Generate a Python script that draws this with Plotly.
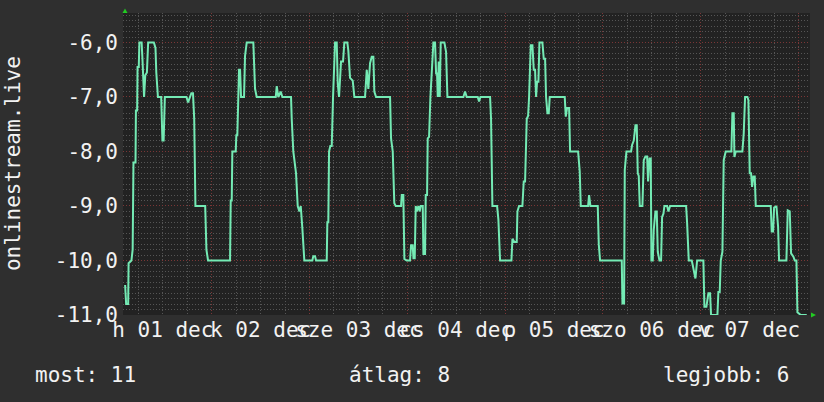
import numpy as np
import plotly.graph_objects as go

# Hourly rank samples of onlinestream.live over one week (hours since 1 Dec 00:00).
hours = [
    2.75, 3.0, 3.5, 3.6, 4.3, 4.6, 4.8, 5.3, 5.4, 5.7, 5.8, 6.1, 6.25, 6.8, 7.0, 7.1, 7.4, 7.7, 8.1, 8.4,
    9.8, 10.2, 10.4, 10.8, 11.6, 11.9, 12.2, 12.5, 17.8, 18.2, 19.0, 19.4, 19.7, 20.0, 22.4, 22.7, 23.1,
    28.5, 28.66, 28.91, 29.06, 29.89, 30.04, 30.28, 30.53, 30.7, 30.95, 31.19, 31.93, 32.17, 32.59,
    34.21, 34.63, 35.04, 39.71, 39.95, 40.34, 40.93, 41.33, 43.46, 43.63, 44.02, 44.69, 45.1, 45.5,
    45.84, 46.23, 46.72,
    48.69, 48.93, 49.35, 49.6, 52.22, 52.37, 52.61, 52.79, 53.1, 53.45, 53.77, 54.01, 54.26, 54.67,
    54.92, 55.24, 55.48, 55.73, 56.22, 56.54, 57.28, 57.52, 57.94, 58.6, 59.0, 61.62, 62.04, 62.43,
    62.85, 63.26, 63.66, 63.9, 64.32, 67.76, 68.0, 68.42, 68.8, 69.15, 70.45, 70.63, 71.02, 71.27, 71.85,
    72.67, 72.91, 73.32, 73.49, 73.81, 74.06, 74.3, 74.71, 75.04, 75.28, 75.78, 75.94, 76.35, 76.51,
    76.84, 77.0, 77.33, 77.66, 77.98, 78.39, 78.8, 79.05, 79.29, 79.46, 79.7, 79.95, 80.19, 81.09,
    81.5, 81.83, 85.75, 86.16, 86.57, 89.27, 89.6, 89.93, 92.3, 92.54, 92.87, 94.02, 94.34, 94.75,
    97.54, 97.78, 98.27, 98.84, 99.01, 99.42, 100.23, 100.56, 100.89, 101.05, 101.3, 101.63, 101.87,
    102.28, 102.69, 103.02, 103.34, 103.59, 103.83, 104.16, 104.41, 105.14, 105.47, 105.8, 106.04,
    106.37, 106.7, 106.94, 110.62, 110.87, 111.2, 111.69, 111.93, 113.9, 114.3, 114.55, 116.35,
    116.59, 116.92, 118.72, 118.97, 119.29,
    124.61, 124.78, 125.18, 125.35, 125.76, 126.9, 127.15, 127.56, 127.97, 128.29, 128.54, 128.78,
    129.03, 129.68, 130.01, 130.42, 130.83, 131.07, 131.4, 131.73, 131.89, 132.22, 132.46, 132.87,
    133.2, 133.45, 133.86, 134.26, 134.51, 134.84, 135.08, 135.74, 136.06, 136.47, 140.4, 140.64,
    141.05, 141.79, 142.2, 142.69, 143.1,
    144.64, 144.89, 145.38, 145.87, 146.28, 146.52, 148.08, 148.32, 148.65, 148.9, 149.31, 149.63,
    150.12, 151.51, 151.76, 152.09, 152.25, 152.58, 154.21, 154.54, 154.87, 155.44, 155.69, 156.01,
    156.34, 156.59, 156.91, 157.24, 157.49, 161.17, 161.41, 161.74, 161.99, 162.56, 162.97, 163.21,
    165.01, 165.34, 165.83, 166.16, 166.73, 167.06, 167.47, 167.71, 168.53, 170.0,
]

rank = [
    -10.45, -10.8, -10.8, -10.05, -10.0, -9.8, -8.2, -8.2, -7.25, -7.25, -6.45, -6.45, -6.0, -6.0, -6.3,
    -6.5, -7.0, -6.6, -6.55, -6.0, -6.0, -6.1, -6.55, -7.0, -7.0, -7.8, -7.8, -7.0, -7.0, -7.1, -6.93,
    -6.93, -7.4, -9.0, -9.0, -9.8, -10.0,
    -10.0, -8.9, -8.9, -8.0, -8.0, -7.7, -7.7, -7.0, -6.5, -6.5, -7.0, -7.0, -6.25, -6.0, -6.0, -6.85,
    -7.0, -7.0, -6.8, -7.0, -6.9, -7.0, -7.0, -7.4, -8.0, -8.4, -9.0, -9.1, -9.0, -9.4, -10.0,
    -10.0, -9.92, -9.92, -10.0, -10.0, -9.3, -9.3, -8.0, -7.9, -7.9, -7.0, -6.6, -6.0, -6.0, -6.75,
    -7.0, -6.7, -6.35, -6.35, -6.0, -6.0, -6.15, -6.65, -6.7, -7.0, -7.0, -6.5, -6.85, -6.38, -6.26,
    -6.26, -6.9, -7.0, -7.0, -7.76, -8.0, -8.95, -9.0, -9.0, -8.8, -8.8, -9.97, -10.0,
    -10.0, -9.72, -9.72, -9.96, -9.96, -9.0, -9.1, -9.0, -9.1, -9.0, -9.0, -9.88, -9.88, -8.8, -8.8,
    -7.76, -7.73, -7.0, -6.45, -6.0, -6.0, -6.57, -6.57, -7.0, -6.35, -7.0, -6.0, -6.0, -6.17, -7.0,
    -7.0, -6.9, -7.0, -7.0, -7.08, -7.0, -7.0, -7.4, -9.0, -9.0, -9.25, -10.0,
    -10.0, -9.6, -9.66, -9.66, -9.1, -9.0, -9.0, -8.55, -8.55, -8.0, -7.4, -7.35, -7.0, -6.05, -6.05,
    -6.5, -6.5, -7.0, -6.72, -6.72, -6.0, -6.0, -6.3, -6.3, -7.0, -7.3, -7.3, -7.0, -7.0, -7.36, -7.2,
    -7.2, -8.0, -8.0, -8.37, -9.0, -9.0, -8.8, -9.0, -9.0, -9.7, -10.0,
    -10.0, -10.79, -10.79, -8.34, -8.0, -8.0, -7.88, -7.8, -7.52, -7.52, -8.4, -8.45, -9.0, -9.0,
    -8.16, -8.09, -8.09, -8.55, -8.13, -8.13, -10.0, -10.0, -9.44, -9.1, -9.1, -9.84, -10.0, -10.0,
    -9.2, -9.14, -9.0, -9.0, -9.1, -9.0, -9.0, -9.3, -10.0, -10.0, -10.15, -10.33, -10.0,
    -10.0, -10.85, -10.85, -10.6, -10.6, -11.0, -11.0, -10.58, -10.58, -10.0, -9.84, -8.16, -8.0,
    -8.0, -7.3, -7.3, -8.1, -8.0, -8.0, -7.67, -7.0, -7.0, -7.06, -8.4, -8.4, -8.65, -8.46, -8.46,
    -9.0, -9.0, -9.47, -9.47, -9.03, -9.0, -9.38, -10.0, -10.0, -9.08, -9.1, -9.87, -9.93, -10.0,
    -10.0, -10.95, -11.0, -11.0,
]
assert len(hours) == len(rank)

# Day labels (centred at noon) and day boundaries
day_noon = [12, 36, 60, 84, 108, 132, 156]
day_labels = ["h 01 dec", "k 02 dec", "sze 03 dec", "cs 04 dec", "p 05 dec", "szo 06 dec", "v 07 dec"]
midnights = [24, 48, 72, 96, 120, 144, 168]

y_ticks = [-11, -10, -9, -8, -7, -6]
y_ticktext = ["-11,0", "-10,0", "-9,0", "-8,0", "-7,0", "-6,0"]

x_range = [2.23, 170.8]
y_range = [-11.0, -5.459]

# Summary figures shown under the chart
h_arr = np.array(hours)
r_arr = np.array(rank)
current = -r_arr[-1]
average = -np.trapezoid(r_arr, h_arr) / (h_arr[-1] - h_arr[0])
best = -r_arr.max()

FONT = "DejaVu Sans Mono"
TEXT = "#f2f2f2"
PAPER = "#2f2f2f"
PLOT = "#222222"
LINE = "#74eab4"
GRID_MAJOR = "#7a3636"
GRID_MINOR = "#555555"
DOTS = "1px,2px"

fig = go.Figure()
fig.add_trace(go.Scatter(
    x=hours, y=rank, mode="lines",
    line=dict(color=LINE, width=2),
    hoverinfo="skip", showlegend=False,
))
# carrier trace so the grid axis is drawn
fig.add_trace(go.Scatter(
    x=x_range, y=y_range, xaxis="x2", mode="none",
    hoverinfo="skip", showlegend=False,
))

fig.update_layout(
    width=824, height=402,
    margin=dict(l=123, r=14, t=13, b=87),
    paper_bgcolor=PAPER, plot_bgcolor=PLOT,
    font=dict(family=FONT, size=21, color=TEXT),
    xaxis=dict(
        range=x_range, tickmode="array", tickvals=day_noon, ticktext=day_labels,
        tickangle=0, showgrid=False, zeroline=False, ticks="", showline=False,
        tickfont=dict(family=FONT, size=21, color=TEXT),
    ),
    xaxis2=dict(
        range=x_range, overlaying="x", anchor="y", side="bottom",
        tickmode="array", tickvals=midnights, showticklabels=False, ticks="",
        showgrid=True, gridcolor=GRID_MAJOR, gridwidth=1, griddash=DOTS, zeroline=False,
        minor=dict(tickmode="linear", tick0=0, dtick=6, showgrid=True,
                   gridcolor=GRID_MINOR, gridwidth=1, griddash=DOTS, ticks=""),
    ),
    yaxis=dict(
        range=y_range, tickmode="array", tickvals=y_ticks, ticktext=y_ticktext,
        showgrid=True, gridcolor=GRID_MAJOR, gridwidth=1, griddash=DOTS,
        zeroline=False, ticks="", ticklabelstandoff=4,
        tickfont=dict(family=FONT, size=21, color=TEXT),
        minor=dict(tickmode="linear", tick0=-11, dtick=0.1, showgrid=True,
                   gridcolor=GRID_MINOR, gridwidth=1, griddash=DOTS, ticks=""),
    ),
    annotations=[
        dict(text="onlinestream.live", textangle=-90, xref="paper", yref="paper",
             x=-0.160, y=0.5, xanchor="center", yanchor="middle", showarrow=False,
             font=dict(family=FONT, size=21, color=TEXT)),
        dict(text=f"most: {current:.0f}", xref="paper", yref="paper", x=-0.131, y=-0.199,
             xanchor="left", yanchor="middle", showarrow=False),
        dict(text=f"átlag: {average:.0f}", xref="paper", yref="paper", x=0.326, y=-0.199,
             xanchor="left", yanchor="middle", showarrow=False),
        dict(text=f"legjobb: {best:.0f}", xref="paper", yref="paper", x=0.972, y=-0.199,
             xanchor="right", yanchor="middle", showarrow=False),
    ],
    shapes=[
        # axis arrow heads
        dict(type="path", xref="paper", yref="paper", xsizemode="pixel", ysizemode="pixel",
             xanchor=0, yanchor=1, path="M -0.5 0 L 4.5 0 L 2 4.5 Z",
             fillcolor="#22cc22", line=dict(width=0)),
        dict(type="path", xref="paper", yref="paper", xsizemode="pixel", ysizemode="pixel",
             xanchor=1, yanchor=0, path="M 1 2.5 L 1 -2.5 L 6 0 Z",
             fillcolor="#22cc22", line=dict(width=0)),
    ],
)

fig.write_html("out.html")
